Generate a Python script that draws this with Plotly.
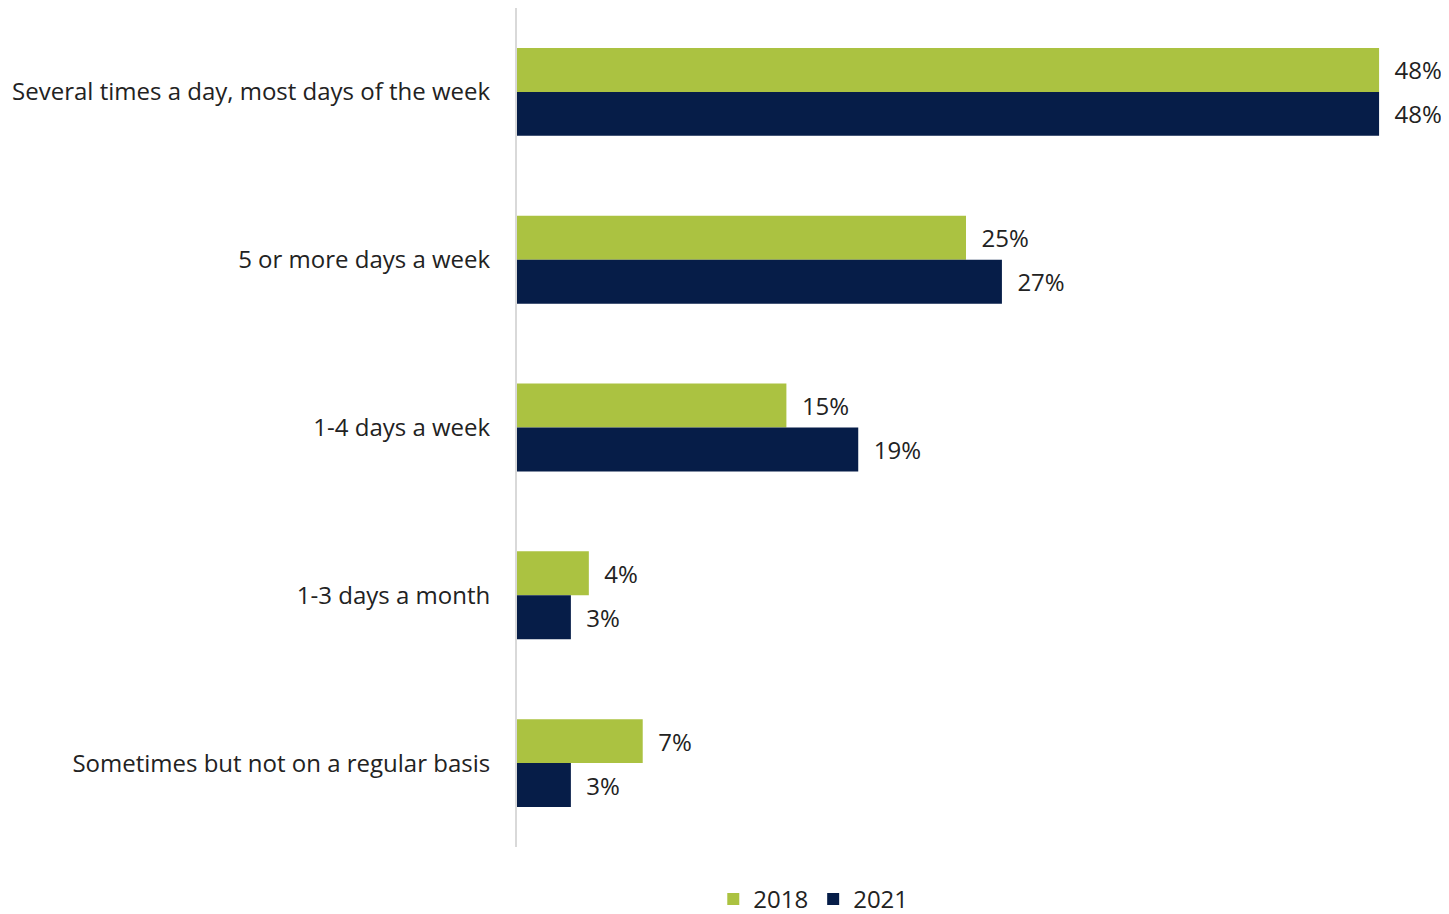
import plotly.graph_objects as go

categories = [
    "Several times a day, most days of the week",
    "5 or more days a week",
    "1-4 days a week",
    "1-3 days a month",
    "Sometimes but not on a regular basis",
]
v2018 = [48, 25, 15, 4, 7]
v2021 = [48, 27, 19, 3, 3]

GREEN = "#abc241"
NAVY = "#061d48"
FONT = "Open Sans"
FS = 24

fig = go.Figure()
for name, vals, col in [("2018", v2018, GREEN), ("2021", v2021, NAVY)]:
    fig.add_trace(go.Bar(
        y=categories, x=vals, name=name, orientation="h",
        marker=dict(color=col, line=dict(width=0)),
        text=[f"\u00a0\u00a0{v}%" for v in vals],
        textposition="outside",
        textfont=dict(family=FONT, size=FS, color="#222222"),
        cliponaxis=False,
        hoverinfo="skip",
    ))

fig.update_layout(
    width=1441, height=914,
    barmode="group",
    bargap=0.476, bargroupgap=0,
    plot_bgcolor="white", paper_bgcolor="white",
    margin=dict(l=509, r=9, t=0, b=74),
    font=dict(family=FONT, size=FS, color="#222222"),
    xaxis=dict(range=[0, 923 / 17.96], visible=False, showgrid=False, zeroline=False),
    yaxis=dict(autorange="reversed", showline=True, linecolor="#d9d9d9", linewidth=2,
               ticks="", ticklabelstandoff=20, showgrid=False,
               tickfont=dict(family=FONT, size=FS, color="#222222")),
    showlegend=True,
    legend=dict(orientation="h", x=0.321, xanchor="center", y=-0.062, yanchor="middle",
                font=dict(family=FONT, size=FS, color="#222222"),
                itemwidth=30, traceorder="normal"),
)

fig.write_html("out.html")
